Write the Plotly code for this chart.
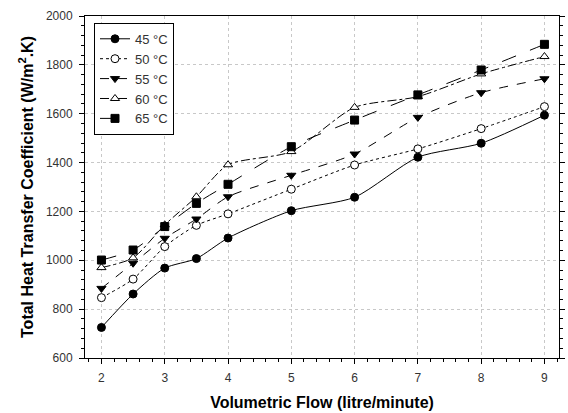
import plotly.graph_objects as go

flow = [2, 2.5, 3, 3.5, 4, 5, 6, 7, 8, 9]
u45 = [725, 862, 968, 1007, 1091, 1203, 1258, 1422, 1479, 1594]
u50 = [847, 923, 1056, 1143, 1190, 1291, 1390, 1456, 1539, 1629]
u55 = [885, 988, 1090, 1169, 1260, 1348, 1435, 1585, 1686, 1743]
u60 = [970, 1010, 1145, 1260, 1391, 1445, 1626, 1670, 1763, 1834]
u65 = [1001, 1042, 1138, 1233, 1311, 1465, 1574, 1677, 1779, 1884]
labels = ["45 °C", "50 °C", "55 °C", "60 °C", "65 °C"]

styles = [
    (u45, "circle", "black", "solid"),
    (u50, "circle", "white", "dot"),
    (u55, "triangle-down", "black", "dash"),
    (u60, "triangle-up", "white", "dashdot"),
    (u65, "square", "black", "longdash"),
]

fig = go.Figure()
for (vals, sym, fill, dash), name in zip(styles, labels):
    fig.add_trace(go.Scatter(
        x=flow, y=vals, name=name, mode="lines+markers",
        line=dict(color="black", width=1, dash=dash, shape="spline", smoothing=0.7),
        marker=dict(symbol=sym, size=8, color=fill, line=dict(color="black", width=1)),
    ))

fig.update_layout(
    width=568, height=413,
    margin=dict(l=85, r=3, t=16, b=55),
    paper_bgcolor="white", plot_bgcolor="white",
    font=dict(family="Liberation Sans, Arial, sans-serif", color="#333", size=12),
    showlegend=True,
    legend=dict(x=0.019, y=0.98, xanchor="left", yanchor="top",
                bordercolor="black", borderwidth=1, bgcolor="white",
                font=dict(size=13, color="#333"), tracegroupgap=0),
)
fig.update_xaxes(
    range=[1.74, 9.23], tickmode="linear", tick0=2, dtick=1,
    showline=True, linecolor="black", linewidth=1, mirror=True,
    ticks="outside", ticklen=5, tickcolor="black", ticklabelstandoff=4,
    tickfont=dict(size=12),
    showgrid=True, gridcolor="#c8c8c8", griddash="dot", gridwidth=1,
    zeroline=False,
    minor=dict(dtick=0.2, ticks="outside", ticklen=3, tickcolor="black", showgrid=False),
    title=dict(text="<b>Volumetric Flow (litre/minute)</b>", font=dict(size=16, color="black"), standoff=12),
)
fig.update_yaxes(
    range=[600, 2000], tickmode="linear", tick0=600, dtick=200,
    showline=True, linecolor="black", linewidth=1, mirror="ticks",
    ticks="outside", ticklen=5, tickcolor="black", ticklabelstandoff=4,
    tickfont=dict(size=12),
    showgrid=True, gridcolor="#c8c8c8", griddash="dot", gridwidth=1,
    zeroline=False,
    minor=dict(dtick=40, ticks="outside", ticklen=3, tickcolor="black", showgrid=False),
    title=dict(text="<b>Total Heat Transfer Coefficient (W/m<sup>2</sup>.K)</b>", font=dict(size=16, color="black"), standoff=8),
)

fig.write_html("out.html")
